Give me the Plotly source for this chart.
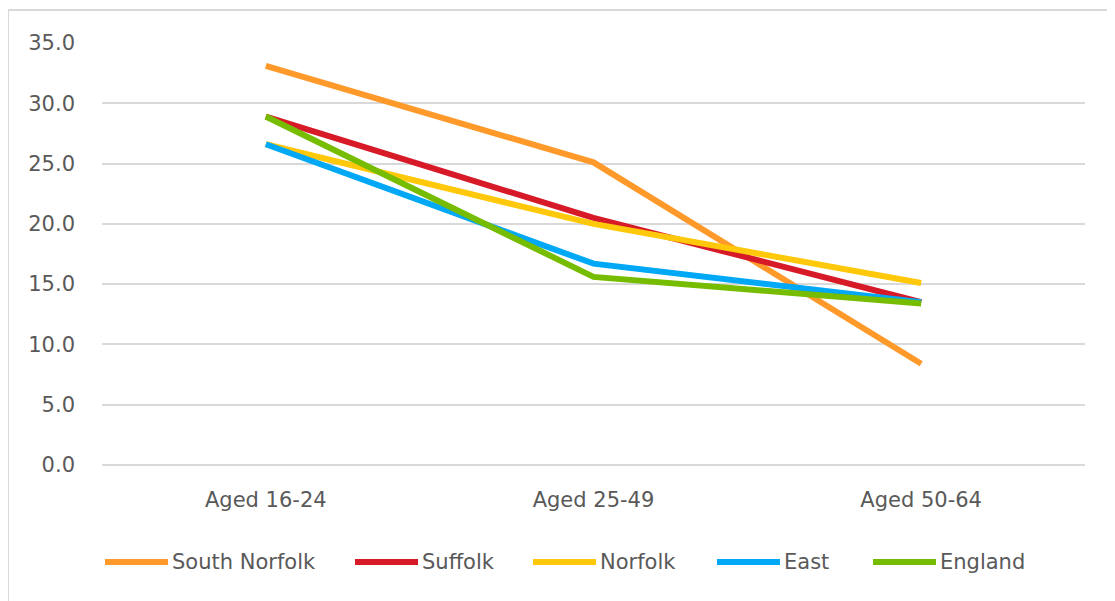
import plotly.graph_objects as go

categories = ["Aged 16-24", "Aged 25-49", "Aged 50-64"]
south_norfolk = [33.1, 25.1, 8.4]
suffolk = [28.9, 20.5, 13.5]
norfolk = [26.6, 20.0, 15.1]
east = [26.6, 16.7, 13.5]
england = [28.9, 15.6, 13.4]

series_names = ["South Norfolk", "Suffolk", "Norfolk", "East", "England"]
series_values = [south_norfolk, suffolk, norfolk, east, england]
series_colors = ["#FF9A2A", "#D71A28", "#FFC80A", "#00A8F5", "#76BC00"]

FONT = "DejaVu Sans, Verdana, sans-serif"
GRAY = "#595959"

fig = go.Figure()
for name, vals, color in zip(series_names, series_values, series_colors):
    fig.add_trace(go.Scatter(
        x=categories, y=vals, name=name, mode="lines",
        line=dict(color=color, width=6),
        showlegend=False,
    ))

# page offset of 8px (body margin) compensated in layout
W, H = 1115, 601
L, R, T, B = 94, 38, 35, 144
pw = W - L - R
ph = H - T - B

def px_x(px):
    return (px - L) / pw

def px_y(py):
    return (H - B - py) / ph

shapes = [
    # chart border (top and left visible)
    dict(type="line", xref="paper", yref="paper", x0=px_x(0), x1=px_x(W + 5),
         y0=px_y(2), y1=px_y(2), line=dict(color="#D9D9D9", width=2)),
    dict(type="line", xref="paper", yref="paper", x0=px_x(0), x1=px_x(0),
         y0=px_y(2), y1=px_y(H + 5), line=dict(color="#D9D9D9", width=2)),
]
annotations = []

# custom legend
legend_starts = [97, 347, 525, 709, 865]
legend_y = 554
line_len = 63
for name, color, x0 in zip(series_names, series_colors, legend_starts):
    shapes.append(dict(type="line", xref="paper", yref="paper",
                       x0=px_x(x0), x1=px_x(x0 + line_len),
                       y0=px_y(legend_y), y1=px_y(legend_y),
                       line=dict(color=color, width=6)))
    annotations.append(dict(xref="paper", yref="paper", x=px_x(x0 + line_len + 2),
                            y=px_y(legend_y), text=name, showarrow=False,
                            xanchor="left", yanchor="middle",
                            font=dict(family=FONT, size=21, color=GRAY)))

fig.update_layout(
    width=W, height=H,
    margin=dict(l=L, r=R, t=T, b=B),
    paper_bgcolor="white", plot_bgcolor="white",
    font=dict(family=FONT, size=21, color=GRAY),
    showlegend=False,
    xaxis=dict(showgrid=False, showline=False, zeroline=False, ticks="",
               ticklabelstandoff=20, tickfont=dict(size=21, color=GRAY),
               range=[-0.5, 2.5]),
    yaxis=dict(range=[0, 35], dtick=5, tickformat=".1f", showgrid=True,
               gridcolor="#D9D9D9", gridwidth=2, zeroline=True, zerolinecolor="#D9D9D9",
               zerolinewidth=2, showline=False, ticks="", ticklabelstandoff=26,
               tickfont=dict(size=21, color=GRAY)),
    shapes=shapes,
    annotations=annotations,
)

fig.write_html("out.html")
